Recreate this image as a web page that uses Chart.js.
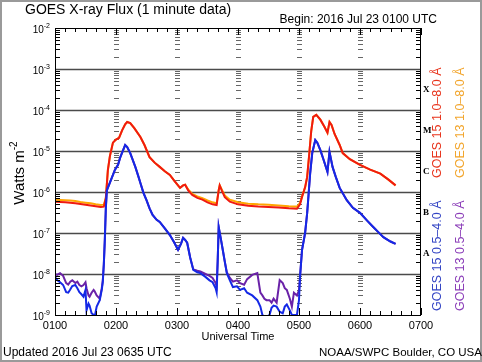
<!DOCTYPE html>
<html>
<head>
<meta charset="utf-8">
<script src="https://cdn.jsdelivr.net/npm/chart.js@4"></script>
<style>
  html, body { margin: 0; padding: 0; background: #fff; }
  #wrap { width: 482px; height: 362px; position: relative; }
</style>
</head>
<body>
<div id="wrap"><canvas id="goes"></canvas></div>
<script>
// minutes after 0100 UTC
const hourTicks = [0, 60, 120, 180, 240, 300, 360];
const hourLabels = ['0100', '0200', '0300', '0400', '0500', '0600', '0700'];
const decades = [-2, -3, -4, -5, -6, -7, -8, -9];
const flareClasses = ['X', 'M', 'C', 'B', 'A'];
const flareLevels = [1e-4, 1e-5, 1e-6, 1e-7, 1e-8];

// 1.0-8.0 A channel
const timesLong = [0, 5, 10, 15, 20, 25, 30, 35, 40, 45, 48, 50, 52, 54, 57, 60, 63, 66, 69, 71,
  74, 78, 84, 88, 93, 98, 103, 108, 113, 118, 123, 126, 128, 131, 135, 140, 145, 150, 155, 159,
  161, 162, 164, 167, 172, 180, 190, 200, 210, 220, 230, 238, 241, 243, 246, 248, 250, 252, 254, 257,
  261, 265, 268, 270, 272, 275, 280, 283, 290, 300, 310, 320, 328, 335];
const goes15Long = [5.8e-7, 5.7e-7, 5.6e-7, 5.5e-7, 5.3e-7, 5.1e-7, 4.9e-7, 4.7e-7, 4.5e-7, 4.3e-7, 4.4e-7, 7.0e-7, 3.4e-6, 7.5e-6, 1.6e-5, 1.9e-5, 2.1e-5, 3.2e-5, 4.5e-5, 5.1e-5,
  4.8e-5, 3.6e-5, 2.2e-5, 1.4e-5, 7.1e-6, 5.2e-6, 4.1e-6, 3.2e-6, 2.6e-6, 1.8e-6, 1.26e-6, 1.45e-6, 1.5e-6, 1.1e-6, 8.5e-7, 7.2e-7, 6.5e-7, 5.6e-7, 5.0e-7, 4.8e-7,
  1.1e-6, 1.45e-6, 1.1e-6, 7.5e-7, 5.8e-7, 5.0e-7, 4.6e-7, 4.4e-7, 4.3e-7, 4.2e-7, 4.0e-7, 3.9e-7, 5.0e-7, 7.6e-7, 1.3e-6, 2.3e-6, 8.0e-6, 3.0e-5, 6.8e-5, 7.6e-5,
  5.8e-5, 3.9e-5, 2.8e-5, 5.1e-5, 4.3e-5, 2.6e-5, 1.4e-5, 8.9e-6, 6.3e-6, 4.6e-6, 3.5e-6, 2.8e-6, 2.0e-6, 1.45e-6];
const goes13Long = [6.5e-7, 6.4e-7, 6.3e-7, 6.2e-7, 6.0e-7, 5.7e-7, 5.5e-7, 5.3e-7, 5.0e-7, 4.8e-7, 4.9e-7, 7.2e-7, 3.4e-6, 7.5e-6, 1.6e-5, 1.9e-5, 2.1e-5, 3.2e-5, 4.5e-5, 5.1e-5,
  4.8e-5, 3.6e-5, 2.2e-5, 1.4e-5, 7.1e-6, 5.2e-6, 4.1e-6, 3.2e-6, 2.6e-6, 1.8e-6, 1.26e-6, 1.45e-6, 1.5e-6, 1.15e-6, 9.0e-7, 7.8e-7, 7.1e-7, 6.2e-7, 5.6e-7, 5.3e-7,
  1.1e-6, 1.45e-6, 1.15e-6, 8.2e-7, 6.5e-7, 5.6e-7, 5.2e-7, 5.0e-7, 4.9e-7, 4.7e-7, 4.5e-7, 4.4e-7, 5.4e-7, 7.8e-7, 1.3e-6, 2.3e-6, 8.0e-6, 3.0e-5, 6.8e-5, 7.6e-5,
  5.8e-5, 3.9e-5, 2.8e-5, 5.1e-5, 4.3e-5, 2.6e-5, 1.4e-5, 8.9e-6, 6.3e-6, 4.6e-6, 3.5e-6, 2.8e-6, 2.0e-6, 1.45e-6];

// 0.5-4.0 A channel
const timesShort = [0, 2, 5, 8, 11, 13, 15, 17, 20, 22, 24, 26, 28, 30, 31, 33, 34, 36, 38, 39,
  41, 44, 46, 47, 48, 49, 50, 51, 54, 57, 59, 62, 64, 67, 69, 71, 74, 77, 79, 82,
  84, 87, 90, 93, 96, 100, 103, 108, 113, 117, 121, 124, 126, 128, 130, 133, 136, 140, 143, 148,
  152, 155, 158, 159, 160, 161, 163, 165, 167, 169, 172, 175, 179, 182, 186, 189, 194, 199, 202, 204,
  206, 208, 211, 213, 215, 218, 221, 224, 226, 228, 231, 233, 235, 238, 240, 241, 243, 246, 248, 249,
  251, 253, 256, 258, 261, 264, 268, 270, 273, 276, 280, 287, 293, 300, 307, 313, 318, 323, 330, 335];
const goes15Short = [8.5e-9, 7.1e-9, 6.3e-9, 5.4e-9, 3.6e-9, 3.5e-9, 4.2e-9, 5.1e-9, 5.4e-9, 4.5e-9, 3.6e-9, 3.2e-9, 2.8e-9, 4.1e-9, 1.3e-9, 1.9e-9, 1.7e-9, 1.1e-9, 1.0e-9, 0.9e-9,
  1.6e-9, 2.3e-9, 4.1e-9, 6.3e-9, 1.7e-8, 6.8e-8, 4.0e-7, 1.1e-6, 1.7e-6, 2.6e-6, 3.5e-6, 4.6e-6, 6.8e-6, 1.05e-5, 1.4e-5, 1.25e-5, 8.9e-6, 5.6e-6, 4.1e-6, 2.4e-6,
  1.66e-6, 9.5e-7, 6.3e-7, 4.0e-7, 2.75e-7, 2.1e-7, 1.86e-7, 1.3e-7, 8.9e-8, 6.0e-8, 3.9e-8, 5.5e-8, 7.6e-8, 6.8e-8, 5.8e-8, 2.5e-8, 1.26e-8, 1.1e-8, 1.05e-8, 8.5e-9,
  7.0e-9, 6.3e-9, 4.5e-9, 3.6e-9, 2.0e-8, 1.4e-7, 7.5e-8, 3.9e-8, 2.0e-8, 1.05e-8, 7.0e-9, 4.8e-9, 5.0e-9, 4.1e-9, 4.5e-9, 3.5e-9, 3.0e-9, 2.3e-9, 1.6e-9, 1.0e-9,
  0.9e-9, 0.9e-9, 1.0e-9, 1.5e-9, 1.7e-9, 1.6e-9, 1.2e-9, 1.1e-9, 1.6e-9, 1.8e-9, 1.3e-9, 1.0e-9, 1.0e-9, 1.0e-9, 2.3e-9, 8.5e-9, 3.9e-8, 1.0e-7, 3.0e-7, 6.3e-7,
  2.9e-6, 8.9e-6, 1.86e-5, 1.6e-5, 1.05e-5, 6.3e-6, 3.1e-6, 9.5e-6, 4.1e-6, 2.4e-6, 1.26e-6, 6.3e-7, 4.1e-7, 3.1e-7, 2.0e-7, 1.4e-7, 1.05e-7, 7.9e-8, 6.2e-8, 5.4e-8];
const goes13Short = [1.0e-8, 9.5e-9, 1.05e-8, 9.0e-9, 6.0e-9, 5.5e-9, 6.5e-9, 7.0e-9, 6.0e-9, 6.5e-9, 5.4e-9, 5.0e-9, 5.4e-9, 6.3e-9, 4.5e-9, 3.0e-9, 2.8e-9, 3.5e-9, 4.1e-9, 3.8e-9,
  3.0e-9, 2.5e-9, 4.5e-9, 7.0e-9, 1.7e-8, 6.8e-8, 4.0e-7, 1.1e-6, 1.7e-6, 2.6e-6, 3.5e-6, 4.6e-6, 6.8e-6, 1.05e-5, 1.4e-5, 1.25e-5, 8.9e-6, 5.6e-6, 4.1e-6, 2.4e-6,
  1.66e-6, 9.5e-7, 6.3e-7, 4.0e-7, 2.75e-7, 2.1e-7, 1.86e-7, 1.3e-7, 8.9e-8, 6.0e-8, 3.9e-8, 5.5e-8, 7.6e-8, 6.8e-8, 5.8e-8, 2.5e-8, 1.3e-8, 1.2e-8, 1.15e-8, 1.0e-8,
  9.0e-9, 8.0e-9, 6.0e-9, 5.0e-9, 2.0e-8, 1.4e-7, 7.5e-8, 3.9e-8, 2.0e-8, 1.1e-8, 8.0e-9, 6.5e-9, 7.0e-9, 6.0e-9, 5.5e-9, 7.5e-9, 9.5e-9, 1.05e-8, 3.5e-9, 3.0e-9,
  2.5e-9, 2.3e-9, 2.3e-9, 2.0e-9, 2.5e-9, 2.0e-9, 7.1e-9, 6.0e-9, 4.5e-9, 4.1e-9, 2.5e-9, 1.6e-9, 3.5e-9, 3.0e-9, 4.0e-9, 8.5e-9, 3.9e-8, 1.0e-7, 3.0e-7, 6.3e-7,
  2.9e-6, 8.9e-6, 1.86e-5, 1.6e-5, 1.05e-5, 6.3e-6, 3.1e-6, 9.5e-6, 4.1e-6, 2.4e-6, 1.26e-6, 6.3e-7, 4.1e-7, 3.1e-7, 2.0e-7, 1.4e-7, 1.05e-7, 7.9e-8, 6.2e-8, 5.4e-8];

const SANS = '"Liberation Sans", Arial, sans-serif';

function pts(times, vals) {
  return times.map((t, i) => ({ x: t, y: vals[i] }));
}

function supText(ctx, base, sup, x, y, size, supSize, rise) {
  // base text then a raised, smaller superscript
  ctx.font = size + 'px ' + SANS;
  const w1 = ctx.measureText(base).width;
  ctx.fillText(base, x, y);
  ctx.font = supSize + 'px ' + SANS;
  ctx.fillText(sup, x + w1, y - rise);
}

function supWidth(ctx, base, sup, size, supSize) {
  ctx.font = size + 'px ' + SANS;
  const w1 = ctx.measureText(base).width;
  ctx.font = supSize + 'px ' + SANS;
  return w1 + ctx.measureText(sup).width;
}

const decor = {
  id: 'decor',
  beforeDatasetsDraw(chart) {
    const { ctx, chartArea: a, scales: { x, y } } = chart;
    ctx.save();
    // decade grid lines
    ctx.strokeStyle = '#4a4a4a';
    ctx.lineWidth = 1.4;
    decades.forEach(e => {
      if (e <= -3 && e >= -8) {
        const py = Math.round(y.getPixelForValue(Math.pow(10, e))) + 0.5;
        ctx.beginPath(); ctx.moveTo(a.left, py); ctx.lineTo(a.right, py); ctx.stroke();
      }
    });
    // hour columns made of minor log ticks
    ctx.strokeStyle = '#666';
    ctx.lineWidth = 1;
    hourTicks.slice(1, -1).forEach(h => {
      const px = Math.round(x.getPixelForValue(h));
      decades.slice(1).forEach(e => {
        for (let k = 2; k <= 9; k++) {
          const py = Math.round(y.getPixelForValue(k * Math.pow(10, e))) + 0.5;
          ctx.beginPath(); ctx.moveTo(px - 2, py); ctx.lineTo(px + 3, py); ctx.stroke();
        }
      });
    });
    ctx.restore();
  },
  afterDraw(chart) {
    const { ctx, chartArea: a, scales: { x, y } } = chart;
    ctx.save();
    // outer border of picture
    ctx.strokeStyle = '#9a9a9a';
    ctx.lineWidth = 2;
    ctx.strokeRect(1, 1, chart.width - 2, chart.height - 2);

    // plot frame
    ctx.strokeStyle = '#000';
    ctx.lineWidth = 1;
    ctx.strokeRect(a.left + 0.5, a.top + 0.5, a.right - a.left - 1, a.bottom - a.top);

    // left / right log ticks
    decades.slice(1).forEach(e => {
      for (let k = 2; k <= 9; k++) {
        const py = Math.round(y.getPixelForValue(k * Math.pow(10, e))) + 0.5;
        ctx.beginPath();
        ctx.moveTo(a.left, py); ctx.lineTo(a.left + 5, py);
        ctx.moveTo(a.right, py); ctx.lineTo(a.right - 5, py);
        ctx.stroke();
      }
    });
    // top / bottom time ticks every 10 min
    for (let t = 0; t <= 360; t += 10) {
      const px = Math.round(x.getPixelForValue(t)) + 0.5;
      const len = t % 60 === 0 ? 7 : 4;
      ctx.beginPath();
      ctx.moveTo(px, a.top); ctx.lineTo(px, a.top + len);
      ctx.moveTo(px, a.bottom); ctx.lineTo(px, a.bottom - len);
      ctx.stroke();
    }

    ctx.fillStyle = '#000';
    ctx.textBaseline = 'alphabetic';
    // titles
    ctx.textAlign = 'left';
    ctx.font = '14px ' + SANS;
    ctx.fillText('GOES X-ray Flux (1 minute data)', 25, 14);
    ctx.textAlign = 'right';
    ctx.font = '12px ' + SANS;
    ctx.fillText('Begin: 2016 Jul 23 0100 UTC', 437, 23);

    // x tick labels
    ctx.textAlign = 'center';
    ctx.font = '11px ' + SANS;
    hourTicks.forEach((h, i) => {
      ctx.fillText(hourLabels[i], x.getPixelForValue(h), 329);
    });
    ctx.fillText('Universal Time', 238, 340);

    // footer
    ctx.textAlign = 'left';
    ctx.font = '12px ' + SANS;
    ctx.fillText('Updated 2016 Jul 23 0635 UTC', 3, 356);
    ctx.font = '11.5px ' + SANS;
    ctx.fillText('NOAA/SWPC Boulder, CO USA', 319, 356);

    // y tick labels
    ctx.textAlign = 'left';
    decades.forEach(e => {
      const py = y.getPixelForValue(Math.pow(10, e));
      const sup = '-' + String(-e);
      const w = supWidth(ctx, '10', sup, 10, 7);
      supText(ctx, '10', sup, 50 - w, py + 5, 10, 7, 5);
    });

    // y axis title
    ctx.save();
    ctx.translate(24, 173);
    ctx.rotate(-Math.PI / 2);
    const tw = supWidth(ctx, 'Watts m', '-2', 15, 10);
    supText(ctx, 'Watts m', '-2', -tw / 2, 0, 15, 10, 7);
    ctx.restore();

    // flare classes
    ctx.font = 'bold 9px "Liberation Serif", "DejaVu Serif", serif';
    ctx.textBaseline = 'middle';
    flareClasses.forEach((c, i) => {
      const py = y.getPixelForValue(flareLevels[i] * Math.sqrt(10));
      ctx.fillText(c, a.right + 2, py);
    });

    // rotated legends
    ctx.textBaseline = 'alphabetic';
    const legend = [
      ['GOES 15 1.0\u20138.0 \u00c5', '#e8341c', 441, 178],
      ['GOES 13 1.0\u20138.0 \u00c5', '#f2a52c', 464, 178],
      ['GOES 15 0.5\u20134.0 \u00c5', '#3344c4', 441, 311],
      ['GOES 13 0.5\u20134.0 \u00c5', '#8a3cb8', 464, 311]
    ];
    ctx.font = '12.5px ' + SANS;
    legend.forEach(([txt, col, lx, ly]) => {
      ctx.save();
      ctx.translate(lx, ly);
      ctx.rotate(-Math.PI / 2);
      ctx.fillStyle = col;
      ctx.fillText(txt, 0, 0);
      ctx.restore();
    });
    ctx.restore();
  }
};

new Chart(document.getElementById('goes'), {
  type: 'line',
  data: {
    datasets: [
      { label: 'GOES 15 0.5-4.0 A', data: pts(timesShort, goes15Short), borderColor: '#1428e6', borderWidth: 2 },
      { label: 'GOES 13 0.5-4.0 A', data: pts(timesShort, goes13Short), borderColor: '#6a22a8', borderWidth: 2 },
      { label: 'GOES 15 1.0-8.0 A', data: pts(timesLong, goes15Long), borderColor: '#f01a10', borderWidth: 2 },
      { label: 'GOES 13 1.0-8.0 A', data: pts(timesLong, goes13Long), borderColor: '#ffa600', borderWidth: 2 }
    ]
  },
  options: {
    responsive: true,
    maintainAspectRatio: false,
    animation: false,
    layout: { padding: { left: 55, top: 28, right: 61, bottom: 47 } },
    elements: {
      point: { radius: 0 },
      line: { tension: 0 }
    },
    scales: {
      x: { type: 'linear', min: 0, max: 360, display: false },
      y: { type: 'logarithmic', min: 1e-9, max: 1e-2, display: false }
    },
    plugins: {
      legend: { display: false },
      tooltip: { enabled: false }
    },
    events: []
  },
  plugins: [decor]
});
</script>
</body>
</html>
